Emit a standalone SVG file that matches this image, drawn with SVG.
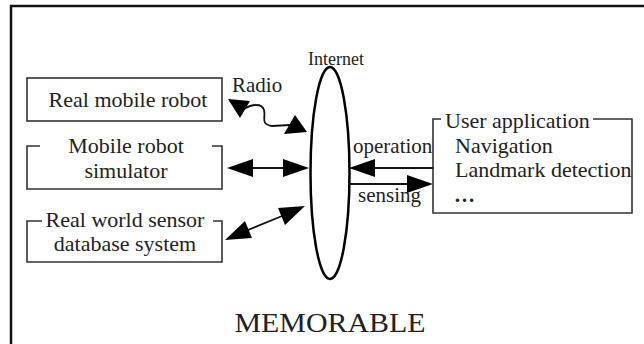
<svg xmlns="http://www.w3.org/2000/svg" width="644" height="344" viewBox="0 0 644 344" font-family="'Liberation Serif', 'Times New Roman', serif">
<style>
text{font-family:"Liberation Serif","Times New Roman",serif;fill:#222}
.t{font-family:"Liberation Serif","Times New Roman",serif;font-size:22px}
.l{font-family:"Liberation Serif","Times New Roman",serif;font-size:21px}
.box{fill:none;stroke:#333;stroke-width:1.6}
.ln{fill:none;stroke:#111;stroke-width:1.8}
.hd{fill:#000}
</style>
<rect width="644" height="344" fill="#fff"/>
<path d="M11,344 V6 H644" fill="none" stroke="#111" stroke-width="2.5"/>

<g id="real-robot">
<rect class="box" x="27" y="78" width="195" height="43"/>
<text class="t" x="128" y="107" text-anchor="middle">Real mobile robot</text>
</g>

<g id="simulator">
<path class="box" d="M40,146 H27 V189 H222 V146 H212"/>
<text class="t" x="126" y="153" text-anchor="middle">Mobile robot</text>
<text class="t" x="126" y="178" text-anchor="middle">simulator</text>
</g>

<g id="sensor-db">
<path class="box" d="M42,221 H27 V262 H222 V221 H213"/>
<text class="t" x="125" y="227" text-anchor="middle">Real world sensor</text>
<text class="t" x="125" y="251" text-anchor="middle">database system</text>
</g>

<g id="internet">
<ellipse cx="330" cy="173" rx="19.5" ry="106" fill="none" stroke="#000" stroke-width="2.5"/>
<text x="336" y="65" font-size="18" text-anchor="middle">Internet</text>
</g>

<g id="user-app">
<path class="box" d="M441,119 H433 V213 H632 V119 H593"/>
<text class="t" x="445" y="128">User application</text>
<text class="t" x="455" y="153">Navigation</text>
<text class="t" x="455" y="177">Landmark detection</text>
<text x="454" y="202" font-size="21" font-weight="bold">…</text>
</g>

<g id="connectors">
<path class="ln" d="M244,109 C252,104 262,103 264,110 C266,118 260,124 272,126 L290,125"/>
<polygon class="hd" points="228,99 250,101 240,118"/>
<polygon class="hd" points="307,132 284,134 295,115"/>
<text class="l" x="232" y="92">Radio</text>
<line class="ln" x1="250" y1="168" x2="285" y2="168"/>
<polygon class="hd" points="227,168 253,159 253,177"/>
<polygon class="hd" points="309,168 283,159 283,177"/>
<line class="ln" x1="248" y1="230" x2="282" y2="216"/>
<polygon class="hd" points="225,240 245,221 252,238"/>
<polygon class="hd" points="305,206 278,208 285,225"/>
<line class="ln" x1="372" y1="168" x2="433" y2="168"/>
<polygon class="hd" points="349,168 375,159 375,177"/>
<text class="l" x="353" y="153">operation</text>
<line class="ln" x1="349" y1="184" x2="410" y2="184"/>
<polygon class="hd" points="433,184 407,175 407,193"/>
<text class="l" x="358" y="202">sensing</text>
</g>

<text x="330" y="332" font-size="27" text-anchor="middle" textLength="191" lengthAdjust="spacingAndGlyphs">MEMORABLE</text>
</svg>
